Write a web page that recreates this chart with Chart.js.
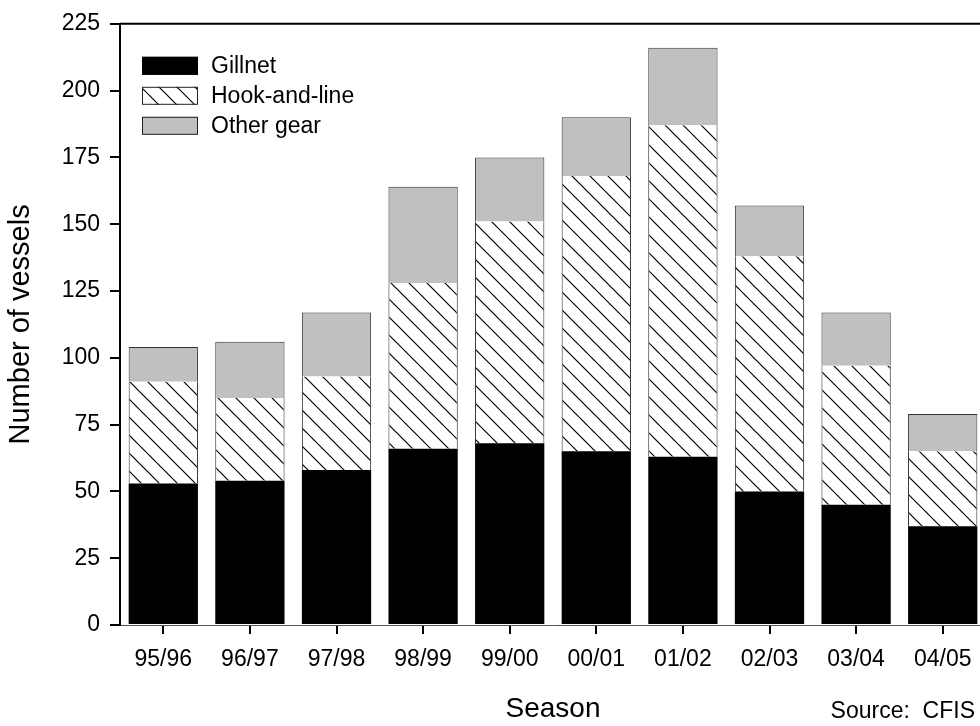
<!DOCTYPE html>
<html><head><meta charset="utf-8">
<script src="https://cdn.jsdelivr.net/npm/chart.js@4.4.1/dist/chart.umd.min.js"></script>
<style>
html,body{margin:0;padding:0;overflow:hidden;background:#fff;width:980px;height:726px}
#wrap{width:990px;height:726px;position:relative}
canvas{display:block}
</style>
</head><body><div id="wrap"><canvas id="c" width="990" height="726"></canvas></div>
<script>
// ---- data ----
const seasons = ['95/96','96/97','97/98','98/99','99/00','00/01','01/02','02/03','03/04','04/05'];
const gillnet = [53, 54, 58, 66, 68, 65, 63, 50, 45, 37];
const hookAndLine = [38, 31, 35, 62, 83, 103, 124, 88, 52, 28];
const otherGear = [13, 21, 24, 36, 24, 22, 29, 19, 20, 14];
const seriesLabels = ['Gillnet', 'Hook-and-line', 'Other gear'];
const xTitle = 'Season';
const yTitle = 'Number of vessels';
const sourceNote = 'Source:  CFIS';
const yMin = 0, yMax = 225, yStep = 25;

const FONT = '"Liberation Sans", Arial, Helvetica, sans-serif';

function makeHatch() {
  const s = 18;
  const p = document.createElement('canvas');
  p.width = s; p.height = s;
  const g = p.getContext('2d');
  g.fillStyle = '#fff';
  g.fillRect(0, 0, s, s);
  g.strokeStyle = '#000';
  g.lineWidth = 1.2;
  for (const k of [-1, 0, 1]) {
    g.beginPath();
    g.moveTo(-2, -2 + k * s);
    g.lineTo(s + 2, s + 2 + k * s);
    g.stroke();
  }
  return document.getElementById('c').getContext('2d').createPattern(p, 'repeat');
}
const hatch = makeHatch();

const legendPlugin = {
  id: 'insideLegend',
  afterDraw(chart) {
    const {ctx, chartArea} = chart;
    ctx.save();
    chart.data.datasets.forEach((ds, i) => {
      const x = chartArea.left + 22, y = chartArea.top + 33 + 30 * i;
      ctx.fillStyle = ds.backgroundColor;
      ctx.fillRect(x, y, 56, 18);
      ctx.strokeStyle = i === 0 ? '#000' : '#222';
      ctx.lineWidth = 1;
      ctx.strokeRect(x + 0.5, y + 0.5, 55, 17);
      ctx.fillStyle = '#000';
      ctx.font = '23px ' + FONT;
      ctx.textBaseline = 'middle';
      ctx.textAlign = 'left';
      ctx.fillText(ds.label, x + 69, y + 10);
    });
    // top frame line
    ctx.strokeStyle = '#000';
    ctx.lineWidth = 2;
    ctx.beginPath();
    ctx.moveTo(chartArea.left, chartArea.top);
    ctx.lineTo(chart.width, chartArea.top);
    ctx.stroke();
    // source note
    ctx.font = '23px ' + FONT;
    ctx.textAlign = 'right';
    ctx.textBaseline = 'alphabetic';
    ctx.fillText(sourceNote, 975, 718);
    ctx.restore();
  }
};

new Chart(document.getElementById('c'), {
  type: 'bar',
  data: {
    labels: seasons,
    datasets: [
      {label: seriesLabels[0], data: gillnet, backgroundColor: '#000', borderColor: '#000', borderWidth: 0},
      {label: seriesLabels[1], data: hookAndLine, backgroundColor: hatch, borderColor: '#222',
       borderWidth: {left: 1, right: 1, top: 0, bottom: 0}, borderSkipped: false},
      {label: seriesLabels[2], data: otherGear, backgroundColor: '#c0c0c0', borderColor: '#333',
       borderWidth: {left: 1, right: 1, top: 1, bottom: 0}, borderSkipped: false}
    ]
  },
  options: {
    responsive: false,
    devicePixelRatio: 1,
    animation: false,
    layout: {padding: {left: 0, right: 4, top: 19, bottom: 0}},
    datasets: {bar: {barPercentage: 0.8, categoryPercentage: 1.0}},
    plugins: {legend: {display: false}, tooltip: {enabled: false}},
    scales: {
      x: {
        stacked: true,
        grid: {display: true, drawOnChartArea: false, offset: false, tickLength: 9, color: '#000', lineWidth: 2},
        border: {display: true, color: '#555', width: 1},
        ticks: {color: '#000', font: {family: FONT, size: 23}, padding: 12, maxRotation: 0, autoSkip: false},
        title: {display: true, text: xTitle, color: '#000', font: {family: FONT, size: 28}, padding: {top: 0, bottom: 0}},
        afterFit(scale) { scale.height = 101; }
      },
      y: {
        stacked: true,
        min: yMin, max: yMax,
        grid: {display: true, drawOnChartArea: false, tickLength: 10, color: '#000', lineWidth: 2},
        border: {display: true, color: '#000', width: 2},
        ticks: {stepSize: yStep, color: '#000', font: {family: FONT, size: 23}, padding: 10},
        title: {display: true, text: yTitle, color: '#000', font: {family: FONT, size: 29}, padding: {top: 4, bottom: 0}},
        afterFit(scale) { scale.width = 120; }
      }
    }
  },
  plugins: [legendPlugin]
});
</script>
</body></html>
